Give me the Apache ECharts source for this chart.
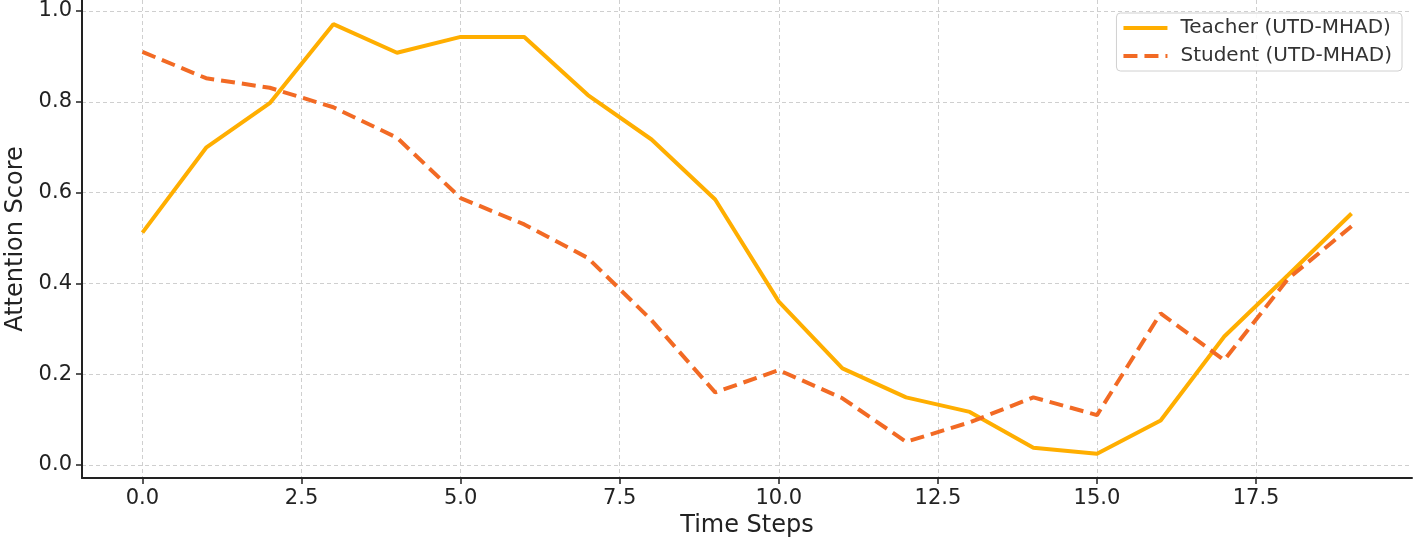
<!DOCTYPE html>
<html><head><meta charset="utf-8">
<script src="https://cdn.jsdelivr.net/npm/echarts@6/dist/echarts.min.js"></script>
<style>html,body{margin:0;padding:0;background:#fff}#c{width:1416px;height:542px}</style>
</head><body><div id="c"></div>
<script>
const timeSteps = [0,1,2,3,4,5,6,7,8,9,10,11,12,13,14,15,16,17,18,19];
const teacher = [0.512,0.699,0.797,0.971,0.908,0.943,0.943,0.815,0.717,0.585,0.360,0.213,0.149,0.117,0.038,0.025,0.098,0.283,0.418,0.554];
const student = [0.910,0.852,0.831,0.788,0.721,0.588,0.530,0.456,0.319,0.160,0.209,0.147,0.051,0.094,0.149,0.110,0.334,0.231,0.410,0.526];
const xTicks = [0,2.5,5,7.5,10,12.5,15,17.5];
const yTicks = [0,0.2,0.4,0.6,0.8,1.0];
const seriesNames = ['Teacher (UTD-MHAD)','Student (UTD-MHAD)'];

const font = 'DejaVu Sans';
const chart = echarts.init(document.getElementById('c'), null, {renderer:'canvas'});
const gridLine = {show:true, lineStyle:{color:'#cfcfcf', type:[4,3], width:1}};
chart.setOption({
  animation:false,
  backgroundColor:'#fff',
  grid:{left:82, right:4, top:0, bottom:64, containLabel:false, outerBoundsMode:'none'},
  legend:{
    orient:'vertical', right:14, top:13,
    data:seriesNames,
    itemWidth:44, itemHeight:16, itemGap:8,
    padding:[5,10,5,5],
    borderColor:'#d0d0d0', borderWidth:1, borderRadius:4,
    backgroundColor:'rgba(255,255,255,0.85)',
    itemStyle:{opacity:0},
    lineStyle:{width:4},
    textStyle:{fontFamily:font, fontSize:20, color:'#333', padding:[0,0,0,8]}
  },
  xAxis:{
    type:'value', min:-0.95, max:19.95,
    name:'Time Steps', nameLocation:'middle', nameGap:36,
    nameTextStyle:{fontFamily:font, fontSize:24, color:'#222'},
    axisLine:{show:true, onZero:false, lineStyle:{color:'#222', width:2}},
    axisTick:{show:true, customValues:xTicks, length:6, inside:false, lineStyle:{color:'#222', width:1.5}},
    axisLabel:{customValues:xTicks, fontFamily:font, fontSize:21, color:'#222', margin:10,
      formatter:v=>Number(v).toFixed(1)},
    splitLine:gridLine
  },
  yAxis:{
    type:'value', min:-0.0286, max:1.0243,
    name:'Attention Score', nameLocation:'middle', nameGap:54, nameRotate:90,
    nameTextStyle:{fontFamily:font, fontSize:24, color:'#222'},
    axisLine:{show:true, onZero:false, lineStyle:{color:'#222', width:2}},
    axisTick:{show:true, customValues:yTicks, length:6, lineStyle:{color:'#222', width:1.5}},
    axisLabel:{customValues:yTicks, fontFamily:font, fontSize:21, color:'#222', margin:10,
      formatter:v=>Number(v).toFixed(1)},
    splitLine:gridLine
  },
  series:[
    {name:seriesNames[0], type:'line', symbol:'none', data:timeSteps.map((t,i)=>[t,teacher[i]]),
      lineStyle:{color:'#FFAE00', width:4}, itemStyle:{color:'#FFAE00'}, z:2},
    {name:seriesNames[1], type:'line', symbol:'none', data:timeSteps.map((t,i)=>[t,student[i]]),
      lineStyle:{color:'#F26A24', width:4, type:[14,7]}, itemStyle:{color:'#F26A24'}, z:3}
  ]
});
</script></body></html>
